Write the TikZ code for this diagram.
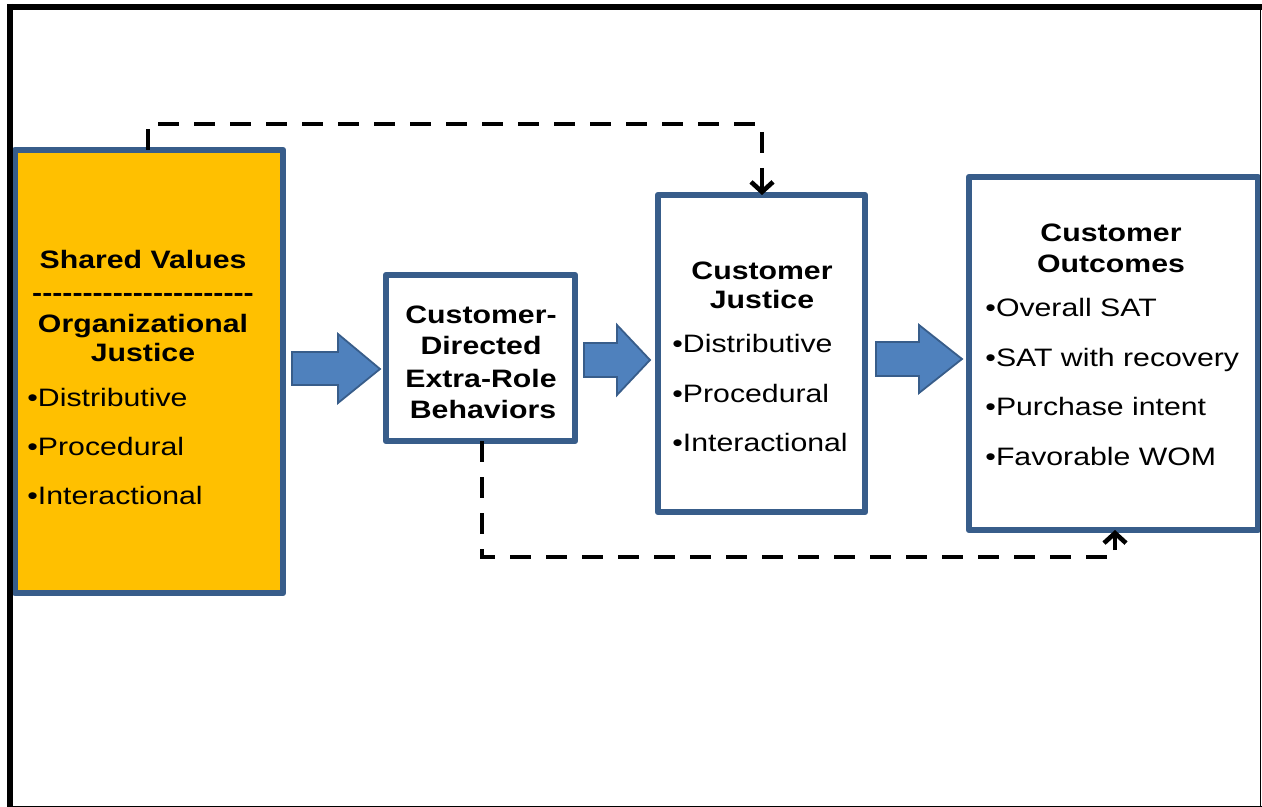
\documentclass[tikz,border=0pt]{standalone}
\usepackage{fontspec}
\setmainfont{Liberation Sans}[FakeStretch=1.2]
\usetikzlibrary{arrows.meta,fit}
\definecolor{boxblue}{HTML}{385D8A}
\definecolor{arrowfill}{HTML}{4F81BD}
\definecolor{gold}{HTML}{FFC000}

\begin{document}
\begin{tikzpicture}[x=0.5pt,y=-0.5pt,
  box/.style={draw=boxblue, line width=3.2pt, inner sep=0pt, outer sep=0pt, line join=round},
  head/.style={font=\fontsize{12.6}{15}\selectfont\bfseries, anchor=base, inner sep=0pt},
  item/.style={font=\fontsize{12.6}{15}\selectfont, anchor=base west, inner sep=0pt},
  blockarrow/.style={fill=arrowfill, draw=boxblue, line width=0.9pt, line join=miter},
  dashline/.style={line width=2.3pt, dash pattern=on 10.5pt off 7.5pt,
    -{Straight Barb[length=5pt,width=11pt]}}]
\useasboundingbox (0,0) rectangle (1262,807);
\fill[white] (0,0) rectangle (1262,807);

% the four boxes
\node[box, fill=gold, fit={(15,150) (283,593)}] (org) {};
\node[box, fill=white, fit={(386,275) (575,441)}] (cder) {};
\node[box, fill=white, fit={(658,195) (865,512)}] (cj) {};
\node[box, fill=white, fit={(969,177) (1258,530)}] (co) {};

% shared values / organizational justice
\node[head] (svt) at (143,269) {Shared Values};
\node[head] (svd) at (143,302) {\foreach \i in {1,...,22}{\mbox{-}}};
\node[head] (ojt) at (143,333) {Organizational};
\node[head] (ojj) at (143,362) {Justice};
\node[item] (oj1) at (27,406) {•Distributive};
\node[item] (oj2) at (27,455) {•Procedural};
\node[item] (oj3) at (27,504) {•Interactional};

% extra-role behaviors
\node[head] (cd1) at (481,323) {Customer-};
\node[head] (cd2) at (481,355) {Directed};
\node[head] (cd3) at (481,387) {Extra-Role};
\node[head] (cd4) at (483,418) {Behaviors};

% customer justice
\node[head] (cjt) at (762,280) {Customer};
\node[head] (cjj) at (762,309) {Justice};
\node[item] (cj1) at (672,352) {•Distributive};
\node[item] (cj2) at (672,402) {•Procedural};
\node[item] (cj3) at (672,451) {•Interactional};

% customer outcomes
\node[head] (cot) at (1111,242) {Customer};
\node[head] (coo) at (1111,273) {Outcomes};
\node[item] (co1) at (985,317) {•Overall SAT};
\node[item] (co2) at (985,366) {•SAT with recovery};
\node[item] (co3) at (985,415) {•Purchase intent};
\node[item] (co4) at (985,465) {•Favorable WOM};

% block arrows between the boxes
\draw[blockarrow] (292,352) -- (338,352) -- (338,334) -- (380,369) -- (338,403) -- (338,385) -- (292,385) -- cycle;
\draw[blockarrow] (584,343) -- (617,343) -- (617,325) -- (650,360) -- (617,395) -- (617,377) -- (584,377) -- cycle;
\draw[blockarrow] (876,342) -- (919,342) -- (919,325) -- (962,359) -- (919,393) -- (919,376) -- (876,376) -- cycle;

% dashed feedback paths
\coordinate (dl) at (148,124);
\coordinate (dr) at (762,124);
\draw[dashline] (org.north -| dl) -- (dl) -- (dr) -- (cj.north -| dr);
\coordinate (bl) at (482,557);
\coordinate (br) at (1115,557);
\draw[dashline] (cder.south -| bl) -- (bl) -- (br) -- (co.south -| br);

% outer frame
\draw[line width=2.7pt] (10,4) -- (10,807);
\draw[line width=3pt] (7,7) -- (1262,7);
\draw[line width=0.8pt] (1260.5,7) -- (1260.5,807);
\draw[line width=0.6pt] (10,806.3) -- (1262,806.3);
\end{tikzpicture}
\end{document}
